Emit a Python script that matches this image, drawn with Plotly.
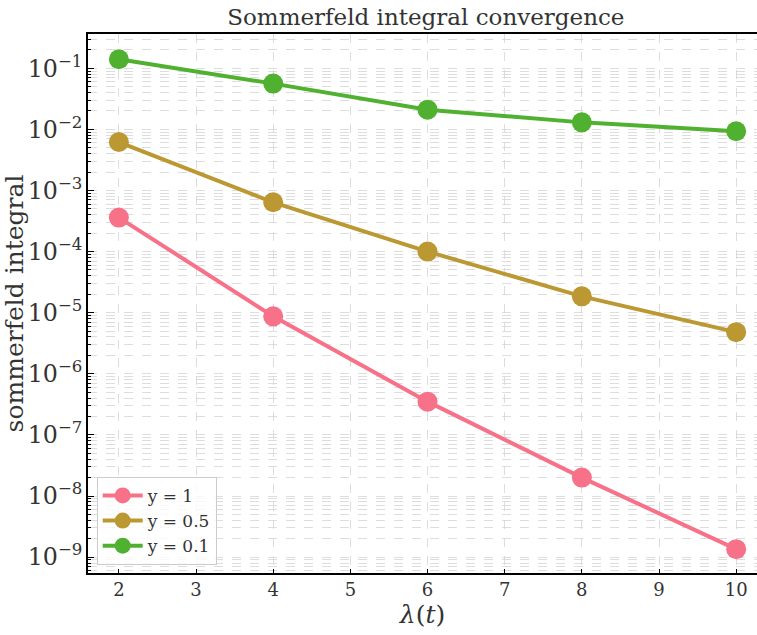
import plotly.graph_objects as go

x_vals = [2, 4, 6, 8, 10]
y_1 = [3.6e-4, 8.7e-6, 3.5e-7, 2.0e-8, 1.35e-9]
y_05 = [6.2e-3, 6.4e-4, 1.0e-4, 1.85e-5, 4.8e-6]
y_01 = [0.14, 0.056, 0.021, 0.013, 0.0093]
names = ["y = 1", "y = 0.5", "y = 0.1"]
colors = ["#f77189", "#bb9832", "#50b131"]

FONT = "DejaVu Serif"
fig = go.Figure()
for ys, nm, c in zip([y_1, y_05, y_01], names, colors):
    fig.add_trace(go.Scatter(x=x_vals, y=ys, name=nm, mode="lines+markers",
                             line=dict(color=c, width=4),
                             marker=dict(color=c, size=20)))

grid = "rgba(212,212,212,0.8)"
fig.update_layout(
    width=757, height=635,
    margin=dict(l=88, r=0, t=34, b=62, autoexpand=False),
    paper_bgcolor="white", plot_bgcolor="white",
    font=dict(family=FONT, color="#333", size=18),
    title=dict(text="Sommerfeld integral convergence", x=0.505, xanchor="center",
               xref="paper", y=0.973, yanchor="middle",
               font=dict(family=FONT, size=23, color="#333")),
    xaxis=dict(range=[1.6, 10.27], dtick=1, showline=True, linecolor="black", linewidth=1.5,
               mirror=True, ticks="inside", ticklen=4, tickcolor="black",
               showgrid=True, gridcolor=grid, griddash="dash",
               gridwidth=1, zeroline=False, automargin=False,
               title=dict(text="<i>λ</i>(<i>t</i>)", font=dict(size=25, family=FONT), standoff=4),
               tickfont=dict(size=18)),
    yaxis=dict(type="log", range=[-9.26, -0.44], dtick=1, exponentformat="power",
               showline=True, linecolor="black", linewidth=1.5, mirror=False,
               ticks="inside", ticklen=6, tickcolor="black", automargin=False,
               showgrid=True, gridcolor=grid, griddash="dash", gridwidth=1, zeroline=False,
               minor=dict(dtick="D1", ticks="inside", ticklen=3, tickcolor="black",
                          showgrid=True, gridcolor=grid, griddash="dash", gridwidth=1),
               title=dict(text="sommerfeld integral", font=dict(size=25, family=FONT), standoff=6),
               tickfont=dict(size=19)),
    legend=dict(x=0.013, y=0.015, xanchor="left", yanchor="bottom",
                bgcolor="rgba(255,255,255,0.8)", bordercolor="#ccc", borderwidth=1,
                font=dict(size=17, family=FONT), itemwidth=40),
)
fig.write_html("out.html", config={"displayModeBar": False},
               post_script="document.body.style.margin='0';")
